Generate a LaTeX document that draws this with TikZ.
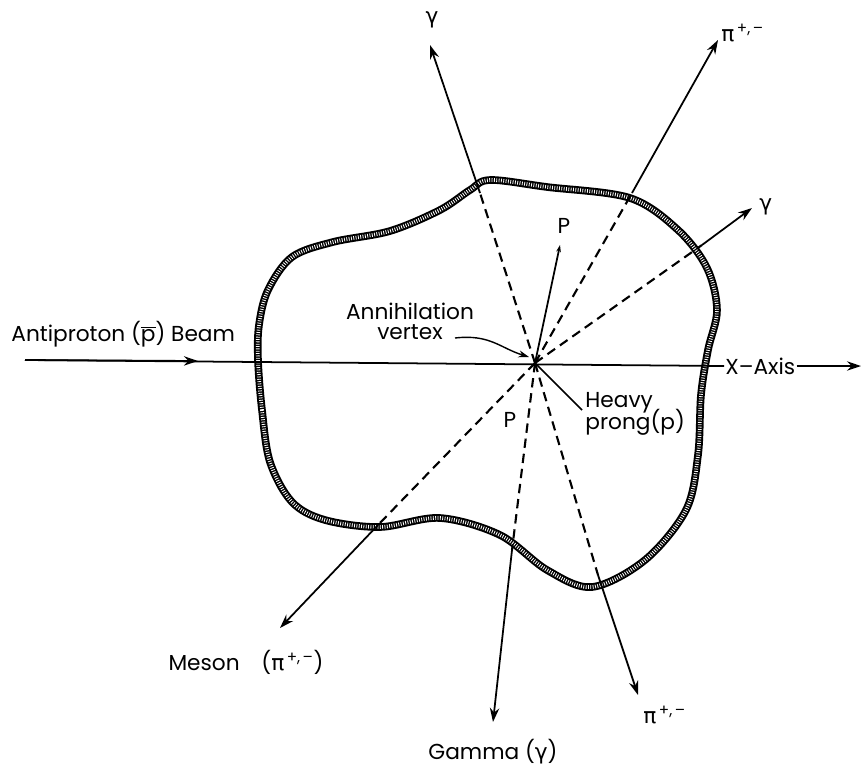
\documentclass[tikz,border=0pt]{standalone}
\usepackage{fontspec}
\setmainfont{Poppins}
\newfontfamily\grk{DejaVu Sans}
\usetikzlibrary{arrows.meta,positioning}
\newcommand{\pion}{{\grk π}\textsuperscript{\,+,\,–}}
\newcommand{\gam}{{\grk γ}}

\begin{document}
\begin{tikzpicture}[x=0.03cm,y=-0.03cm,
    track/.style={line width=1.5pt,-{Stealth[length=12pt,width=8pt]}},
    hidden/.style={line width=1.8pt,dash pattern=on 8pt off 5pt},
    lbl/.style={font=\fontsize{18.5}{21}\selectfont,inner sep=1pt}]
    \useasboundingbox (0,0) rectangle (862,771);

    % Target outline (hatched edge)
    \def\outline{(258,360) (262,410) (270,462) (292,502) (325,520) (380,527)
        (440,518) (500,535) (547,570) (592,587) (645,560) (686,510) (698,455)
        (701,395) (708,350) (717,310) (707,268) (678,230) (630,198) (547,187)
        (490,180) (470,190) (440,210) (390,231) (333,242) (292,257) (268,290) (259,325)}
    \draw[line width=6.5pt] plot[smooth cycle,tension=0.55] coordinates {\outline};
    \draw[white,line width=3.2pt,dash pattern=on 0.7pt off 1.3pt]
        plot[smooth cycle,tension=0.55] coordinates {\outline};

    % Vertex, exit points and track ends
    \coordinate (V) at (535,363);
    \coordinate (gUpB) at (480,193);   \coordinate (gUpT) at (430,45);
    \coordinate (piUpB) at (632,193);  \coordinate (piUpT) at (718,40);
    \coordinate (gRtB) at (702,245);   \coordinate (gRtT) at (752,208);
    \coordinate (mesB) at (378,525);   \coordinate (mesT) at (280,628);
    \coordinate (gDnB) at (512,550);   \coordinate (gDnT) at (493,722);
    \coordinate (piDnB) at (598,575);  \coordinate (piDnT) at (638,695);
    \coordinate (pT) at (560,245);
    \coordinate (hvyE) at (582,410);
    \coordinate (beamS) at (25,360);
    \coordinate (beamM) at (198,361);
    \coordinate (annS) at (455,338);

    % Labels
    \node[lbl] (gUpL) at (432,20) {\gam};
    \node[lbl,anchor=west] (piUpL) at (720,33) {\pion};
    \node[lbl,anchor=west] (gRtL) at (758,207) {\gam};
    \node[lbl] (pL) at (564,226) {P};
    \node[lbl] (pLow) at (510,420) {P};
    \node[lbl,anchor=west] (beamL) at (10,334) {Antiproton (\(\overline{\mbox{p}}\)) Beam};
    \node[lbl,align=center] (ann) at (410,321) {Annihilation\\[-4pt]vertex};
    \node[lbl,anchor=west] (xax) at (724,366) {X--Axis};
    \coordinate (xEnd) at (861,366);
    \node[lbl,anchor=north west,align=left] (hvy) at (584,391) {Heavy\\[-4pt]prong(p)};
    \node[lbl] (mesL) at (246,662) {Meson\quad(\pion)};
    \node[lbl] (gDnL) at (493,752) {Gamma (\gam)};
    \node[lbl,anchor=west] (piDnL) at (642,715) {\pion};

    % Beam and x-axis
    \draw[line width=1.5pt] (beamS) -- (xax.west);
    \draw[track] (beamS) -- (beamM);
    \draw[track] (xax.east) -- (xEnd);

    % Tracks: hidden inside, solid outside
    \foreach \b/\t in {gUpB/gUpT,piUpB/piUpT,gRtB/gRtT,mesB/mesT,gDnB/gDnT,piDnB/piDnT}{
        \draw[hidden] (V) -- (\b);
        \draw[track] (\b) -- (\t);
    }
    \draw[line width=1.5pt,-{Stealth[length=6pt,width=4pt]}] (V) -- (pT);
    \draw[line width=1.5pt] (V) -- (hvyE);

    % Vertex pointer
    \draw[line width=1.2pt,-{Stealth[length=9pt,width=6pt]}] (annS)
        .. controls (490,334) and (500,348) .. (529,357);
\end{tikzpicture}
\end{document}
